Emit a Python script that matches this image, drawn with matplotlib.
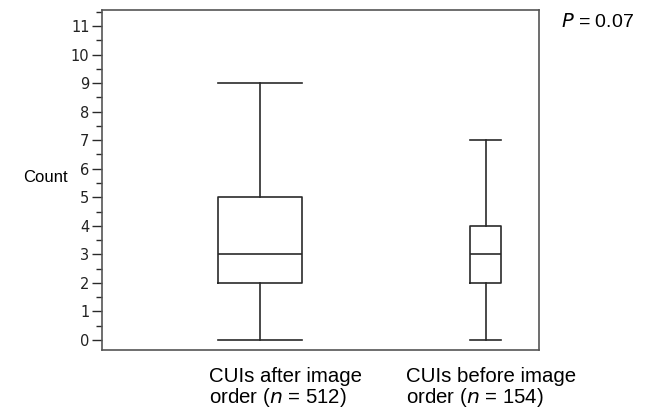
import numpy as np
import matplotlib.pyplot as plt
from matplotlib.ticker import MultipleLocator

# estatisticas
grupos = ['CUIs after image\norder ($\\it{n}$ = 512)', 'CUIs before image\norder ($\\it{n}$ = 154)']
minimos = [0, 0]
q1 = [2, 2]
medianas = [3, 3]
q3 = [5, 4]
maximos = [9, 7]
larguras = [0.372, 0.137]
p_valor = '0.07'

stats = []
for i in range(len(grupos)):
    stats.append({'whislo': minimos[i], 'q1': q1[i], 'med': medianas[i],
                  'q3': q3[i], 'whishi': maximos[i], 'fliers': []})

fig = plt.figure(figsize=(6.47, 4.09), dpi=100)
ax = fig.add_axes([102/647, 1 - 350/409, 437/647, 340/409])

cor = '#2a2a2a'
props = dict(color=cor, linewidth=1.2)
ax.bxp(stats, positions=[1, 2], widths=larguras, showfliers=False,
       boxprops=props, whiskerprops=props, medianprops=props, capprops=props,
       capwidths=larguras)

ax.set_xlim(0.30, 2.235)
ax.set_ylim(-0.35, 11.56)
ax.yaxis.set_major_locator(MultipleLocator(1))
ax.yaxis.set_minor_locator(MultipleLocator(0.5))
ax.tick_params(axis='y', which='major', length=7, width=1, color=cor,
               labelsize=10.5, pad=2)
ax.tick_params(axis='y', which='minor', length=4, width=1, color=cor)
for lbl in ax.get_yticklabels():
    lbl.set_family('DejaVu Sans Condensed')
    lbl.set_color('#222222')
ax.set_xticks([])
for s in ax.spines.values():
    s.set_color('#555555')
    s.set_linewidth(1.2)

fig.text(45/647, 1 - 178/409, 'Count', fontsize=12, ha='center', va='center',
         family='Liberation Sans')
fig.text(209/647, 1 - 388/409, grupos[0], fontsize=14.7, ha='left', va='center',
         family='Liberation Sans', linespacing=0.95)
fig.text(406/647, 1 - 388/409, grupos[1], fontsize=14.7, ha='left', va='center',
         family='Liberation Sans', linespacing=0.95)
fig.text(561/647, 1 - 22/409, '$\\it{P}$ = ' + p_valor, fontsize=14, ha='left',
         va='center', family='Liberation Sans')

plt.savefig('out.png', dpi=100)
